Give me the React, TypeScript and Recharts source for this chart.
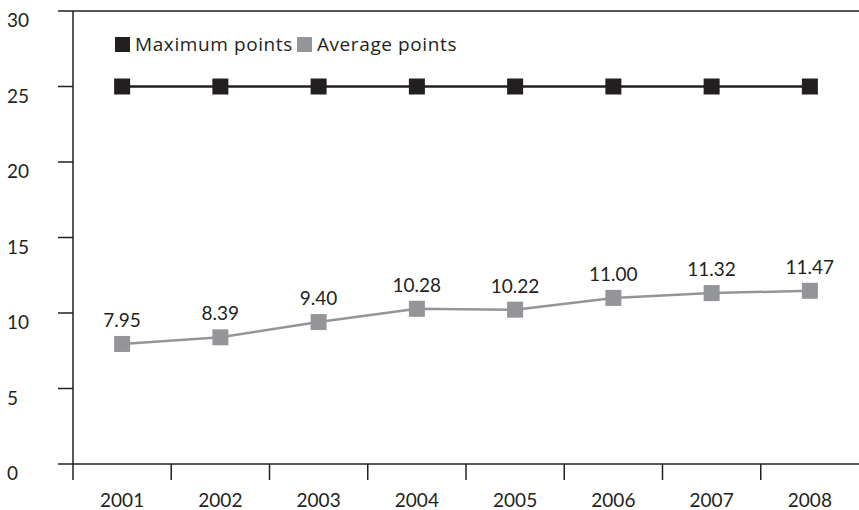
import React from "react";
import {
  LineChart,
  Line,
  XAxis,
  YAxis,
  ReferenceLine,
  LabelList,
} from "recharts";

const years = ["2001", "2002", "2003", "2004", "2005", "2006", "2007", "2008"];
const maximumPoints = [25, 25, 25, 25, 25, 25, 25, 25];
const averagePoints = [7.95, 8.39, 9.4, 10.28, 10.22, 11.0, 11.32, 11.47];
const yTicks = [0, 5, 10, 15, 20, 25, 30];
const seriesNames = ["Maximum points", "Average points"];

const data = years.map((year, i) => ({
  year,
  max: maximumPoints[i],
  avg: averagePoints[i],
}));

const DARK = "#231f20";
const GREY = "#939598";
const FONT = "Lato, 'Open Sans', sans-serif";
const LEGEND_FONT = "'Open Sans', Lato, sans-serif";
const FS = 19;

const W = 859;
const H = 510;
const LEFT = 73;
const HALF_BAND = (W - LEFT) / years.length / 2;

const squareDot = (color: string) => (props: any) => {
  const { cx, cy, index } = props;
  return <rect key={index} x={cx - 8} y={cy - 8} width={16} height={16} fill={color} />;
};

const XTick = (props: any) => {
  const { x, y, payload } = props;
  return (
    <g>
      <line x1={x - HALF_BAND} x2={x - HALF_BAND} y1={y} y2={y + 16} stroke={DARK} strokeWidth={1.5} />
      <text x={x} y={y + 43} textAnchor="middle" fill={DARK} fontSize={FS} fontFamily={FONT}>
        {payload.value}
      </text>
    </g>
  );
};

const YTick = (props: any) => {
  const { y, payload } = props;
  return (
    <text x={7} y={y + 16} textAnchor="start" fill={DARK} fontSize={FS} fontFamily={FONT}>
      {payload.value}
    </text>
  );
};

const ValueLabel = (props: any) => {
  const { x, y, value } = props;
  return (
    <text x={x} y={y - 17} textAnchor="middle" fill={DARK} fontSize={FS} fontFamily={FONT}>
      {Number(value).toFixed(2)}
    </text>
  );
};

export default function App() {
  return (
    <div style={{ position: "absolute", left: 0, top: 0, width: W, height: H, background: "#fff" }}>
      <LineChart width={W} height={H} data={data} margin={{ top: 11, right: 0, left: 0, bottom: 0 }}>
        <XAxis
          dataKey="year"
          height={46}
          padding={{ left: HALF_BAND, right: HALF_BAND }}
          axisLine={{ stroke: DARK, strokeWidth: 1.5 }}
          tickLine={false}
          tickSize={0}
          tickMargin={0}
          tick={<XTick />}
          interval={0}
        />
        <YAxis
          width={LEFT}
          domain={[0, 30]}
          ticks={yTicks}
          axisLine={{ stroke: DARK, strokeWidth: 1.5 }}
          tickLine={{ stroke: DARK, strokeWidth: 1.5 }}
          tickSize={15}
          tick={<YTick />}
        />
        <ReferenceLine y={30} stroke={DARK} strokeWidth={1.5} />
        <Line
          dataKey="max"
          name={seriesNames[0]}
          stroke={DARK}
          strokeWidth={2.5}
          dot={squareDot(DARK)}
          activeDot={false}
          isAnimationActive={false}
        />
        <Line
          dataKey="avg"
          name={seriesNames[1]}
          stroke={GREY}
          strokeWidth={2.5}
          dot={squareDot(GREY)}
          activeDot={false}
          isAnimationActive={false}
        >
          <LabelList dataKey="avg" content={<ValueLabel />} />
        </Line>
      </LineChart>
      <div
        style={{
          position: "absolute",
          left: 115,
          top: 34,
          display: "flex",
          alignItems: "center",
          fontFamily: LEGEND_FONT,
          fontSize: FS,
          letterSpacing: 0.6,
          color: DARK,
          lineHeight: "21px",
        }}
      >
        <span style={{ width: 15, height: 15, background: DARK, marginRight: 5 }} />
        <span style={{ marginRight: 4 }}>{seriesNames[0]}</span>
        <span style={{ width: 15, height: 15, background: GREY, marginRight: 5 }} />
        <span>{seriesNames[1]}</span>
      </div>
    </div>
  );
}
